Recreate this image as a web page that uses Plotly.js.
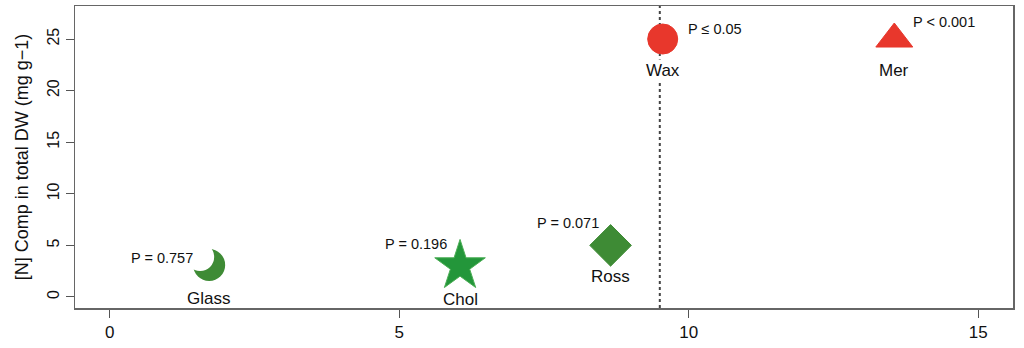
<!DOCTYPE html>
<html>
<head>
<meta charset="utf-8">
<script src="https://cdn.plot.ly/plotly-3.0.1.min.js"></script>
<style>
  html, body { margin: 0; padding: 0; background: #fff; }
  #chart { width: 1024px; height: 348px; }
</style>
</head>
<body>
<div id="chart"></div>
<script>
// groups, positions on the x scale and nitrogen content
const groups = ['Glass', 'Chol', 'Ross', 'Wax', 'Mer'];
const xVals = [1.7, 6.05, 8.65, 9.55, 13.55];
const nComp = [3, 3, 5, 25, 25];
const pLabels = ['P = 0.757', 'P = 0.196', 'P = 0.071', 'P \u2264 0.05', 'P < 0.001'];
const cutoff = 9.5;

const RED = '#e8372c';
const GREEN = '#3e8b35';
const FONT = 'Liberation Sans, Arial, Helvetica, sans-serif';

// marker look per group (Glass is drawn as a crescent below)
const markerSymbol = ['circle', 'star', 'diamond', 'circle', 'triangle-up'];
const markerSize = [0, 38, 32, 30, 32];
const markerColor = [GREEN, '#23963a', GREEN, RED, RED];
const markerLine = ['rgba(0,0,0,0)', '#4cae55', GREEN, RED, RED];

// offsets of the text labels in pixels
const nameShift = [-32, -33, -31, -31, -31];
const pShift = [[-46, 8], [-44, 22], [-43, 22], [52, 10], [50, 17]];

const data = [{
  type: 'scatter',
  mode: 'markers',
  x: xVals.slice(1),
  y: nComp.slice(1),
  marker: {
    symbol: markerSymbol.slice(1),
    size: markerSize.slice(1),
    color: markerColor.slice(1),
    opacity: 1,
    line: { color: markerLine.slice(1), width: 1 },
  },
  hoverinfo: 'skip',
  cliponaxis: false,
}];

// crescent for Glass: a green disc with a white disc cut out of its upper left
const crescent = [
  { fill: GREEN, d: [-15, 17, -15, 17] },
  { fill: '#ffffff', d: [-22, 6, -5, 23] },
];
const shapes = crescent.map(c => ({
  type: 'circle', xref: 'x', yref: 'y',
  xsizemode: 'pixel', ysizemode: 'pixel',
  xanchor: xVals[0], yanchor: nComp[0],
  x0: c.d[0], x1: c.d[1], y0: c.d[2], y1: c.d[3],
  fillcolor: c.fill, line: { width: 0 }, layer: 'above',
}));
shapes.push({
  type: 'line', xref: 'x', yref: 'paper',
  x0: cutoff, x1: cutoff, y0: 0, y1: 1,
  line: { color: '#444', width: 2, dash: 'dot' },
  layer: 'below',
});

const annotations = [];
groups.forEach((g, i) => {
  annotations.push({
    x: xVals[i], y: nComp[i], xref: 'x', yref: 'y',
    text: g, showarrow: false, yshift: nameShift[i],
    bgcolor: g === 'Wax' ? '#ffffff' : 'rgba(0,0,0,0)',
    font: { family: FONT, size: 17, color: '#111' },
  });
  annotations.push({
    x: xVals[i], y: nComp[i], xref: 'x', yref: 'y',
    text: pLabels[i], showarrow: false,
    xshift: pShift[i][0], yshift: pShift[i][1],
    font: { family: FONT, size: 14.5, color: '#111' },
  });
});

const layout = {
  width: 1024,
  height: 348,
  margin: { l: 75, r: 11, t: 6, b: 40 },
  paper_bgcolor: '#fff',
  plot_bgcolor: '#fff',
  showlegend: false,
  font: { family: FONT, color: '#222' },
  xaxis: {
    range: [-0.6, 15.6],
    tickvals: [0, 5, 10, 15],
    ticks: 'outside', ticklen: 8, tickcolor: '#555', tickwidth: 1,
    showgrid: false, zeroline: false,
    showline: true, mirror: true, linecolor: '#666', linewidth: 1.5,
    tickfont: { family: FONT, size: 17, color: '#111' },
  },
  yaxis: {
    range: [-1.07, 28.2],
    tickvals: [0, 5, 10, 15, 20, 25],
    tickangle: -90,
    ticks: 'outside', ticklen: 8, tickcolor: '#555', tickwidth: 1,
    showgrid: false, zeroline: false,
    showline: true, mirror: true, linecolor: '#666', linewidth: 1.5,
    tickfont: { family: FONT, size: 16, color: '#111' },
    title: { text: '[N] Comp in total DW (mg g\u22121)', font: { family: FONT, size: 18, color: '#111' }, standoff: 12 },
  },
  shapes: shapes,
  annotations: annotations,
};

Plotly.newPlot('chart', data, layout, { displayModeBar: false, staticPlot: true });
</script>
</body>
</html>
